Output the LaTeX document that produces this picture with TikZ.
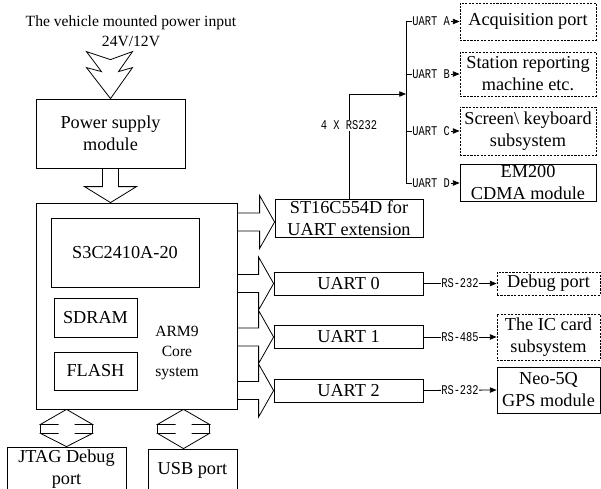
\documentclass[tikz,border=0pt]{standalone}
\usepackage{fontspec}
\setmainfont{Liberation Serif}
\newfontfamily\busfamily[FakeStretch=0.78]{Liberation Mono}
\usepackage{tikz}
\usetikzlibrary{arrows.meta, positioning, calc}

\newcommand{\boxfont}{\fontsize{13.7}{16.5}\selectfont}
\newcommand{\notefont}{\fontsize{11.7}{15}\selectfont}
\newcommand{\busfont}{\busfamily\fontsize{10}{11}\selectfont}

\begin{document}
\begin{tikzpicture}[
    x=0.75pt, y=-0.75pt,
    % --- BASE STYLES ---
    box/.style={rectangle, draw, line width=0.6pt, align=center, font=\boxfont, inner sep=1pt},
    boxsize/.style 2 args={minimum width={#1*0.75pt}, minimum height={#2*0.75pt}},
    portbox/.style={box, dash pattern=on 1.6pt off 1pt},
    note/.style={align=center, font=\notefont, inner sep=1pt},
    line/.style={draw, line width=0.6pt},
    sig/.style={line, -{Triangle[length=5pt, width=4pt]}},
    buslabel/.style={font=\busfont, fill=white, inner sep=0.5pt},
    blockarrow/.style={draw, line width=0.6pt, line join=miter}
]
\useasboundingbox (0,0) rectangle (601,489);
\clip (0,0) rectangle (601,489);

% ==========================================
% POWER INPUT
% ==========================================
\node[note] (title) at (131,31) {The vehicle mounted power input\\24V/12V};
\node[box, boxsize={149}{69}] (psu) at (110.5,133.5) {Power supply\\module};

% zigzag input arrow
\coordinate (in_tip) at (psu.north);
\draw[blockarrow] (in_tip) -- ++(-24,-31) -- ++(15,4) -- ++(-15,-20) -- ++(24,8)
    -- ++(22,-8) -- ++(-14,20) -- ++(14,-4) -- cycle;

% ==========================================
% ARM9 CORE SYSTEM
% ==========================================
\node[box, boxsize={201}{206}] (core) at (136.5,306) {};
\node[box, boxsize={148}{69}] (cpu) at (125,252.5) {S3C2410A-20};
\node[box, boxsize={83}{39}] (sdram) at (95.5,317.5) {SDRAM};
\node[box, boxsize={83}{38}] (flash) at (95.5,371) {FLASH};
\node[note] (arm) at (177,353) {ARM9\\Core\\system};

% power feed into the core
\coordinate (pw_tip) at (psu.south |- core.north);
\draw[blockarrow] ($(psu.south)+(-8,0)$) -- ($(pw_tip)+(-8,-16)$) -- ($(pw_tip)+(-26,-16)$)
    -- (pw_tip) -- ($(pw_tip)+(26,-16)$) -- ($(pw_tip)+(8,-16)$) -- ($(psu.south)+(8,0)$);

% ==========================================
% BOTTOM PORTS
% ==========================================
\node[box, boxsize={119}{44}] (jtag) at (66.5,469) {JTAG Debug\\port};
\node[box, boxsize={89}{42}] (usb) at (192.5,470) {USB port};

\coordinate (jtag_top) at (jtag.north |- core.south);
\coordinate (jtag_bot) at (jtag.north);
\coordinate (usb_top) at ($(usb.north |- core.south)+(-9,0)$);
\coordinate (usb_bot) at ($(usb.north)+(-9,0)$);

% two-way arrows
\foreach \t/\b in {jtag_top/jtag_bot, usb_top/usb_bot} {
    \draw[blockarrow] ($(\t)+(-8,15)$) -- ($(\t)+(-26,15)$) -- (\t) -- ($(\t)+(26,15)$) -- ($(\t)+(8,15)$);
    \draw[blockarrow] ($(\t)+(-8,24)$) -- ($(\t)+(-26,24)$) -- (\b) -- ($(\t)+(26,24)$) -- ($(\t)+(8,24)$);
    \draw[blockarrow] ($(\t)+(-26,15)$) -- ($(\t)+(-26,24)$) ($(\t)+(26,15)$) -- ($(\t)+(26,24)$);
}

% ==========================================
% UART BLOCKS
% ==========================================
\node[box, boxsize={148}{38}] (st) at (349,218) {ST16C554D for\\UART extension};
\node[box, boxsize={149}{23}] (uart0) at (348.5,283.5) {UART 0};
\node[box, boxsize={149}{23}] (uart1) at (348.5,337) {UART 1};
\node[box, boxsize={149}{23}] (uart2) at (348.5,390.5) {UART 2};

% block arrows out of the core
\foreach \n/\dy in {st/4, uart0/0, uart1/0, uart2/0} {
    \coordinate (tip) at ($(\n.west)+(0,\dy)$);
    \draw[blockarrow] ($(tip -| core.east)+(0,-9)$) -- ($(tip)+(-15,-9)$) -- ($(tip)+(-15,-26.5)$)
        -- (tip) -- ($(tip)+(-15,26.5)$) -- ($(tip)+(-15,9)$) -- ($(tip -| core.east)+(0,9)$);
}

% ==========================================
% EXTENSION PORTS (RIGHT TOP)
% ==========================================
\node[portbox, boxsize={136}{37}] (acq) at (528,21.5) {Acquisition port};
\node[portbox, boxsize={136}{44}] (station) at (528,74) {Station reporting\\machine etc.};
\node[portbox, boxsize={136}{48}] (screen) at (528,131) {Screen\textbackslash{} keyboard\\subsystem};
\node[box, boxsize={136}{36}] (em200) at (528,183) {EM200\\CDMA module};

% Bus line
\coordinate (bus_x) at (406,0);
\coordinate (rs_join) at (406,94);
\draw[line] (acq.west -| bus_x) -- (em200.west -| bus_x);
\draw[sig] (st.north) |- node[buslabel, pos=0.35] {4 X RS232} (rs_join);

\foreach \n/\lbl in {acq/A, station/B, screen/C, em200/D} {
    \draw[sig] (\n.west -| bus_x) -- node[buslabel, pos=0.47] {UART \lbl} (\n.west);
}

% ==========================================
% DEVICES (RIGHT BOTTOM)
% ==========================================
\node[portbox, boxsize={103}{23}] (debugp) at (548.5,283.5) {Debug port};
\node[portbox, boxsize={103}{46}] (iccard) at (548.5,337) {The IC card\\subsystem};
\node[box, boxsize={103}{46}] (gps) at (548.5,390) {Neo-5Q\\GPS module};

\foreach \a/\b/\lbl in {uart0/debugp/RS-232, uart1/iccard/RS-485, uart2/gps/RS-232} {
    \draw[sig] (\a.east) -- node[buslabel] {\lbl} (\b.west);
}

\end{tikzpicture}
\end{document}
